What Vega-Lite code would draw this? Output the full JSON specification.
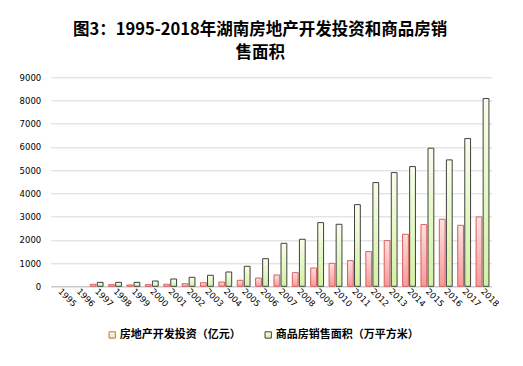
{
  "$schema": "https://vega.github.io/schema/vega-lite/v6.json",
  "width": 441,
  "height": 209,
  "autosize": {"type": "none"},
  "padding": {"left": 50.7, "top": 77.3, "right": 31.3, "bottom": 79.7},
  "background": "white",
  "title": {
    "text": ["图3：1995-2018年湖南房地产开发投资和商品房销", "售面积"],
    "font": "Noto Sans CJK SC",
    "fontSize": 16.5,
    "fontWeight": "bold",
    "color": "#000000",
    "anchor": "middle",
    "frame": "group",
    "lineHeight": 23,
    "offset": 12,
    "dx": -11
  },
  "config": {
    "view": {"stroke": null},
    "axis": {"labelFont": "DejaVu Sans", "labelFontSize": 8.5, "labelColor": "#000000"}
  },
  "data": {
    "values": [
      {"year": "1997", "series": "房地产开发投资（亿元）", "value": 86},
      {"year": "1998", "series": "房地产开发投资（亿元）", "value": 70},
      {"year": "1999", "series": "房地产开发投资（亿元）", "value": 56},
      {"year": "2000", "series": "房地产开发投资（亿元）", "value": 70},
      {"year": "2001", "series": "房地产开发投资（亿元）", "value": 86},
      {"year": "2002", "series": "房地产开发投资（亿元）", "value": 112},
      {"year": "2003", "series": "房地产开发投资（亿元）", "value": 155},
      {"year": "2004", "series": "房地产开发投资（亿元）", "value": 185},
      {"year": "2005", "series": "房地产开发投资（亿元）", "value": 258},
      {"year": "2006", "series": "房地产开发投资（亿元）", "value": 357},
      {"year": "2007", "series": "房地产开发投资（亿元）", "value": 487},
      {"year": "2008", "series": "房地产开发投资（亿元）", "value": 587},
      {"year": "2009", "series": "房地产开发投资（亿元）", "value": 789},
      {"year": "2010", "series": "房地产开发投资（亿元）", "value": 990},
      {"year": "2011", "series": "房地产开发投资（亿元）", "value": 1105},
      {"year": "2012", "series": "房地产开发投资（亿元）", "value": 1493},
      {"year": "2013", "series": "房地产开发投资（亿元）", "value": 1967},
      {"year": "2014", "series": "房地产开发投资（亿元）", "value": 2240},
      {"year": "2015", "series": "房地产开发投资（亿元）", "value": 2657},
      {"year": "2016", "series": "房地产开发投资（亿元）", "value": 2888},
      {"year": "2017", "series": "房地产开发投资（亿元）", "value": 2628},
      {"year": "2018", "series": "房地产开发投资（亿元）", "value": 2987},
      {"year": "1997", "series": "商品房销售面积（万平方米）", "value": 170},
      {"year": "1998", "series": "商品房销售面积（万平方米）", "value": 170},
      {"year": "1999", "series": "商品房销售面积（万平方米）", "value": 170},
      {"year": "2000", "series": "商品房销售面积（万平方米）", "value": 228},
      {"year": "2001", "series": "商品房销售面积（万平方米）", "value": 315},
      {"year": "2002", "series": "商品房销售面积（万平方米）", "value": 388},
      {"year": "2003", "series": "商品房销售面积（万平方米）", "value": 474},
      {"year": "2004", "series": "商品房销售面积（万平方米）", "value": 616},
      {"year": "2005", "series": "商品房销售面积（万平方米）", "value": 862},
      {"year": "2006", "series": "商品房销售面积（万平方米）", "value": 1190},
      {"year": "2007", "series": "商品房销售面积（万平方米）", "value": 1853},
      {"year": "2008", "series": "商品房销售面积（万平方米）", "value": 2025},
      {"year": "2009", "series": "商品房销售面积（万平方米）", "value": 2742},
      {"year": "2010", "series": "商品房销售面积（万平方米）", "value": 2670},
      {"year": "2011", "series": "商品房销售面积（万平方米）", "value": 3517},
      {"year": "2012", "series": "商品房销售面积（万平方米）", "value": 4466},
      {"year": "2013", "series": "商品房销售面积（万平方米）", "value": 4897},
      {"year": "2014", "series": "商品房销售面积（万平方米）", "value": 5155},
      {"year": "2015", "series": "商品房销售面积（万平方米）", "value": 5948},
      {"year": "2016", "series": "商品房销售面积（万平方米）", "value": 5444},
      {"year": "2017", "series": "商品房销售面积（万平方米）", "value": 6362},
      {"year": "2018", "series": "商品房销售面积（万平方米）", "value": 8086}
    ]
  },
  "mark": {"type": "bar", "strokeWidth": 1, "fillOpacity": 1},
  "encoding": {
    "x": {
      "field": "year",
      "type": "nominal",
      "sort": null,
      "scale": {
        "domain": ["1995", "1996", "1997", "1998", "1999", "2000", "2001", "2002", "2003", "2004", "2005", "2006", "2007", "2008", "2009", "2010", "2011", "2012", "2013", "2014", "2015", "2016", "2017", "2018"],
        "paddingInner": 0.3,
        "paddingOuter": 0.15
      },
      "axis": {
        "title": null,
        "labelAngle": 45,
        "labelAlign": "left",
        "labelBaseline": "middle",
        "labelPadding": 3,
        "ticks": false,
        "domain": true,
        "domainColor": "#bfbfbf",
        "grid": false
      }
    },
    "xOffset": {
      "field": "series",
      "type": "nominal",
      "sort": ["房地产开发投资（亿元）", "商品房销售面积（万平方米）"],
      "scale": {"paddingInner": 0.18}
    },
    "y": {
      "field": "value",
      "type": "quantitative",
      "scale": {"domain": [0, 9000], "nice": false},
      "axis": {
        "title": null,
        "values": [0, 1000, 2000, 3000, 4000, 5000, 6000, 7000, 8000, 9000],
        "format": "d",
        "ticks": false,
        "domain": false,
        "grid": true,
        "gridColor": "#d9d9d9",
        "gridWidth": 1,
        "labelPadding": 10
      }
    },
    "fill": {
      "condition": {
        "test": "datum.series === '房地产开发投资（亿元）'",
        "value": {"gradient": "linear", "x1": 0, "y1": 0, "x2": 0, "y2": 1, "stops": [{"offset": 0, "color": "#fde0e0"}, {"offset": 1, "color": "#f49a9a"}]}
      },
      "value": {"gradient": "linear", "x1": 0, "y1": 0, "x2": 0, "y2": 1, "stops": [{"offset": 0, "color": "#f8fdec"}, {"offset": 1, "color": "#d3f2a0"}]}
    },
    "stroke": {
      "field": "series",
      "type": "nominal",
      "sort": ["房地产开发投资（亿元）", "商品房销售面积（万平方米）"],
      "scale": {"range": ["#d9605e", "#404040"]},
      "legend": {
        "title": null,
        "orient": "none",
        "legendX": 56,
        "legendY": 252,
        "direction": "horizontal",
        "symbolType": "square",
        "symbolSize": 40,
        "symbolStrokeWidth": 1,
        "labelFont": "Noto Sans CJK SC",
        "labelFontSize": 11,
        "labelFontWeight": "bold",
        "labelColor": "#000000",
        "labelOffset": 2,
        "columnPadding": 22,
        "encode": {
          "symbols": {
            "update": {
              "fill": {"signal": "datum.value === '房地产开发投资（亿元）' ? '#f8b4b4' : '#e4f6c2'"},
              "fillOpacity": {"value": 1},
              "strokeWidth": {"value": 1}
            }
          }
        }
      }
    }
  }
}
